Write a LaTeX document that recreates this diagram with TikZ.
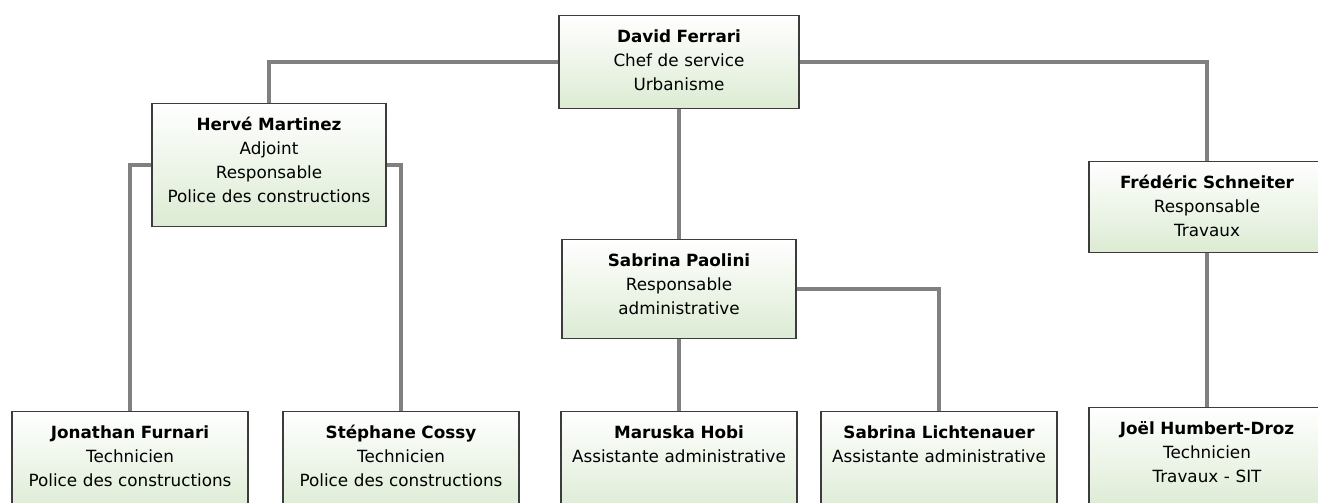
\documentclass[tikz,border=0pt]{standalone}
\usepackage{fontspec}
\setmainfont{DejaVu Sans}
\usepackage{tikz}

\definecolor{boxgreen}{RGB}{220,235,211}
\definecolor{linegray}{RGB}{128,128,128}
\definecolor{boxborder}{RGB}{60,60,60}

\begin{document}
\begin{tikzpicture}[x=0.75pt,y=0.75pt,yscale=-1,
  box/.style={draw=boxborder, line width=0.9pt, top color=white, bottom color=boxgreen,
    anchor=north, align=center, inner sep=0pt, text width=177pt, text height=20pt,
    font=\fontsize{12.6}{18}\selectfont},
  link/.style={draw=linegray, line width=2.8pt}]
\useasboundingbox (0,0) rectangle (1318,503);
\clip (0,0) rectangle (1318,503);

%Boxes: top row
\node [box, text width=180pt, text depth=49.75pt] (df) at (679,15) {\textbf{David Ferrari}\\Chef de service\\Urbanisme};
\node [box, text width=175.5pt, text depth=72.25pt] (hm) at (269,103) {\textbf{Hervé Martinez}\\Adjoint\\Responsable\\Police des constructions};
\node [box, text depth=48.25pt] (fs) at (1207,161) {\textbf{Frédéric Schneiter}\\Responsable\\Travaux};
\node [box, text width=175.5pt, text depth=54.25pt] (sp) at (679,239) {\textbf{Sabrina Paolini}\\Responsable\\administrative};

%Boxes: bottom row
\node [box, text depth=56.5pt] (jf) at (130,411) {\textbf{Jonathan Furnari}\\Technicien\\Police des constructions};
\node [box, text depth=56.5pt] (sc) at (401,411) {\textbf{Stéphane Cossy}\\Technicien\\Police des constructions};
\node [box, text depth=56.5pt] (mh) at (679,411) {\textbf{Maruska Hobi}\\Assistante administrative};
\node [box, text depth=56.5pt] (sl) at (939,411) {\textbf{Sabrina Lichtenauer}\\Assistante administrative};
\node [box, text depth=56.5pt] (jh) at (1207,407) {\textbf{Joël Humbert-Droz}\\Technicien\\Travaux - SIT};

%Straight Lines
\draw [link] (df.west) -| (hm.north);
\draw [link] (df.east) -| (fs.north);
\draw [link] (df.south) -- (sp.north);
\draw [link] (hm.west) -| (jf.north);
\draw [link] (hm.east) -| (sc.north);
\draw [link] (sp.south) -- (mh.north);
\draw [link] (sp.east) -| (sl.north);
\draw [link] (fs.south) -- (jh.north);

\end{tikzpicture}
\end{document}
